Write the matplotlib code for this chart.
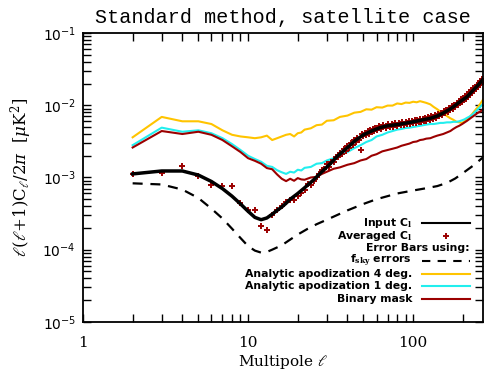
import numpy as np
import matplotlib
matplotlib.use('Agg')
import matplotlib.pyplot as plt

plt.rcParams['mathtext.fontset'] = 'dejavuserif'

# Input C_l (smooth black curve)
ell_in = [2, 3, 4, 5, 6, 7, 8, 9, 10, 11, 12, 13, 14, 15, 16, 17, 18, 20, 22, 25, 28,
          31.5, 35, 40, 45, 50, 56, 63, 70, 80, 90, 100, 115, 127, 140, 152, 165, 175,
          190, 211, 230, 250, 265]
cl_in = [1.12e-3, 1.23e-3, 1.23e-3, 1.08e-3, 8.8e-4, 7.0e-4, 5.5e-4, 4.3e-4, 3.4e-4,
         2.8e-4, 2.6e-4, 2.75e-4, 3.1e-4, 3.5e-4, 3.9e-4, 4.4e-4, 5.0e-4, 6.0e-4, 7.2e-4,
         9.3e-4, 1.2e-3, 1.55e-3, 2.0e-3, 2.6e-3, 3.3e-3, 3.9e-3, 4.4e-3, 4.9e-3, 5.2e-3,
         5.4e-3, 5.65e-3, 5.9e-3, 6.3e-3, 6.6e-3, 7.1e-3, 7.8e-3, 8.7e-3, 9.5e-3, 1.1e-2,
         1.3e-2, 1.6e-2, 1.95e-2, 2.3e-2]

# Averaged C_l (crosses), values in units of 1e-3 uK^2
ell_avg = ([2, 3, 4, 5, 6, 7, 8, 9, 10, 11, 12, 13, 14, 15, 16, 17, 18, 19, 20, 21, 22,
            23, 24, 25, 26, 27, 28, 29]
           + list(range(30, 61)) + list(range(62, 121, 2)) + list(range(123, 265, 3)))
cl_avg_e3 = [1.12, 1.15, 1.45, 1.05, 0.79, 0.76, 0.76, 0.44, 0.36, 0.36, 0.21, 0.19,
             0.30, 0.36, 0.40, 0.46, 0.49, 0.49, 0.56, 0.61, 0.67, 0.80, 0.79, 0.88,
             1.0, 1.1, 1.25, 1.3,
             # l = 30..60
             1.52, 1.41, 1.66, 1.65, 1.95, 1.9, 2.2, 2.1, 2.45, 2.3, 2.75, 2.6, 3.0, 2.85,
             3.35, 3.1, 3.55, 3.35, 2.4, 3.95, 3.7, 4.15, 3.85, 4.35, 4.05, 4.5, 4.2, 4.65,
             4.35, 4.8, 4.5,
             # l = 62..120 step 2
             5.1, 4.7, 5.3, 4.85, 5.5, 5.0, 5.55, 5.05, 5.65, 5.15, 5.75, 5.25, 5.85, 5.35,
             5.95, 5.45, 6.05, 5.5, 6.15, 5.6, 6.25, 5.7, 6.35, 5.8, 6.45, 5.9, 6.55, 6.0,
             6.7, 6.1,
             # l = 123..264 step 3
             6.8, 6.3, 7.0, 6.5, 7.3, 6.7, 7.5, 7.0, 7.9, 7.3, 8.3, 7.7, 8.7, 8.1, 9.2, 8.5,
             9.7, 9.0, 10.2, 9.5, 10.8, 10.1, 11.5, 10.6, 12.1, 11.2, 12.8, 11.8, 13.4,
             12.4, 14.1, 13.2, 15.2, 14.1, 16.1, 15.0, 17.1, 15.9, 18.1, 16.9, 19.2, 17.9,
             20.4, 19.0, 21.7, 20.3, 23.1, 21.8]
cl_avg = np.array(cl_avg_e3) * 1e-3

# f_sky errors (dashed)
ell_fsky = [2, 3, 4, 5, 6, 7, 8, 9, 10, 11, 12, 13, 14, 16, 18, 20, 23, 26, 30, 35, 40,
            50, 60, 80, 100, 120, 140, 160, 180, 200, 230, 265]
cl_fsky = [8.3e-4, 8.0e-4, 6.8e-4, 5.2e-4, 3.7e-4, 2.7e-4, 1.95e-4, 1.45e-4, 1.12e-4,
           9.7e-5, 9.1e-5, 9.3e-5, 1.0e-4, 1.15e-4, 1.38e-4, 1.62e-4, 1.95e-4, 2.25e-4,
           2.6e-4, 3.05e-4, 3.5e-4, 4.3e-4, 5.0e-4, 6.0e-4, 6.6e-4, 7.1e-4, 7.6e-4, 8.4e-4,
           9.7e-4, 1.15e-3, 1.45e-3, 1.9e-3]

# Error bars from the three masks
ell_err = [2, 3, 4, 5, 6, 7, 8, 9, 10, 11, 12, 13, 14, 15, 16, 17, 18, 19, 20, 21, 22,
           24, 26, 28, 30, 33, 36, 40, 44, 48, 52, 56, 60, 65, 70, 75, 80, 85, 90, 95,
           100, 105, 110, 115, 120, 127, 133, 140, 146, 152, 160, 168, 175, 183, 190,
           198, 205, 212, 220, 228, 236, 245, 255, 265]
err_apo4 = [3.6e-3, 6.9e-3, 6.0e-3, 6.0e-3, 5.5e-3, 4.5e-3, 3.9e-3, 3.7e-3, 3.6e-3,
            3.5e-3, 3.6e-3, 3.8e-3, 3.3e-3, 3.5e-3, 3.7e-3, 3.9e-3, 4.0e-3, 3.7e-3, 4.1e-3,
            4.2e-3, 4.6e-3, 4.8e-3, 5.3e-3, 5.4e-3, 6.1e-3, 6.2e-3, 6.9e-3, 7.2e-3, 7.9e-3,
            8.1e-3, 8.8e-3, 8.7e-3, 9.4e-3, 9.3e-3, 9.9e-3, 9.9e-3, 1.06e-2, 1.04e-2,
            1.09e-2, 1.08e-2, 1.12e-2, 1.1e-2, 1.14e-2, 1.11e-2, 1.08e-2, 1.03e-2, 9.5e-3,
            8.8e-3, 8.2e-3, 7.8e-3, 7.1e-3, 6.6e-3, 6.3e-3, 5.9e-3, 5.8e-3, 5.7e-3, 6.0e-3,
            6.4e-3, 6.9e-3, 7.6e-3, 8.4e-3, 9.3e-3, 1.05e-2, 1.2e-2]
err_apo1 = [2.8e-3, 4.9e-3, 4.3e-3, 4.5e-3, 4.1e-3, 3.5e-3, 2.9e-3, 2.4e-3, 2.0e-3,
            1.8e-3, 1.65e-3, 1.45e-3, 1.4e-3, 1.26e-3, 1.18e-3, 1.12e-3, 1.2e-3, 1.17e-3,
            1.28e-3, 1.25e-3, 1.36e-3, 1.4e-3, 1.55e-3, 1.58e-3, 1.72e-3, 1.85e-3, 2.05e-3,
            2.25e-3, 2.55e-3, 2.8e-3, 3.1e-3, 3.3e-3, 3.7e-3, 3.9e-3, 4.2e-3, 4.4e-3,
            4.6e-3, 4.7e-3, 4.85e-3, 4.9e-3, 5.0e-3, 5.1e-3, 5.2e-3, 5.3e-3, 5.4e-3, 5.5e-3,
            5.5e-3, 5.6e-3, 5.7e-3, 5.7e-3, 5.8e-3, 5.8e-3, 5.9e-3, 5.9e-3, 6.0e-3, 6.2e-3,
            6.4e-3, 6.7e-3, 7.0e-3, 7.4e-3, 8.0e-3, 8.7e-3, 9.5e-3, 1.05e-2]
err_bin = [2.6e-3, 4.4e-3, 4.0e-3, 4.3e-3, 3.9e-3, 3.3e-3, 2.7e-3, 2.25e-3, 1.85e-3,
           1.7e-3, 1.55e-3, 1.35e-3, 1.3e-3, 1.1e-3, 9.6e-4, 8.9e-4, 9.6e-4, 9.0e-4, 9.8e-4,
           9.4e-4, 9.3e-4, 1.0e-3, 1.02e-3, 1.12e-3, 1.2e-3, 1.32e-3, 1.38e-3, 1.5e-3,
           1.58e-3, 1.72e-3, 1.8e-3, 2.0e-3, 2.1e-3, 2.3e-3, 2.4e-3, 2.5e-3, 2.6e-3,
           2.75e-3, 2.85e-3, 2.95e-3, 3.1e-3, 3.15e-3, 3.3e-3, 3.35e-3, 3.45e-3, 3.5e-3,
           3.65e-3, 3.8e-3, 3.9e-3, 4.0e-3, 4.2e-3, 4.4e-3, 4.7e-3, 5.0e-3, 5.2e-3, 5.5e-3,
           5.8e-3, 6.1e-3, 6.5e-3, 6.9e-3, 7.3e-3, 7.8e-3, 8.2e-3, 8.7e-3]

c_apo4 = '#ffc400'
c_apo1 = '#22eeee'
c_bin = '#9b0000'
c_avg = '#9b0000'

fig = plt.figure(figsize=(4.85, 3.76), dpi=100)
ax = fig.add_axes([0.171, 0.144, 0.825, 0.768])

ax.plot(ell_err, err_apo4, color=c_apo4, lw=1.5)
ax.plot(ell_err, err_apo1, color=c_apo1, lw=1.5)
ax.plot(ell_err, err_bin, color=c_bin, lw=1.5)
ax.plot(ell_fsky, cl_fsky, color='black', lw=1.6, dashes=(4.5, 3.5))
ax.plot(ell_avg, cl_avg, ls='none', marker='+', color=c_avg, ms=5, mew=1.4)
ax.plot(ell_in, cl_in, color='black', lw=2.5)

ax.set_xscale('log')
ax.set_yscale('log')
ax.set_xlim(1, 265)
ax.set_ylim(1e-5, 1e-1)

ax.tick_params(which='both', direction='in', top=True, right=True, length=6, width=1)
ax.tick_params(axis='x', which='both', labelsize=11, pad=10)
ax.tick_params(axis='y', which='both', labelsize=10, pad=5)
ax.set_xticks([1, 10, 100])
ax.set_xticklabels(['1', '10', '100'], family='DejaVu Serif')
for s in ax.spines.values():
    s.set_linewidth(1.3)

ax.set_title('Standard method, satellite case', family='Liberation Mono', fontsize=14.5, pad=7)
ax.set_xlabel(r'Multipole $\ell$', family='DejaVu Serif', fontsize=11, labelpad=2)
ax.set_ylabel(r'$\ell(\ell{+}1)\mathrm{C}_\ell/2\pi\ \ [\mu\mathrm{K}^2]$', fontsize=12, labelpad=6)

# legend drawn by hand: labels right-aligned, samples to the right
tx = 0.8225
hx0, hx1 = 0.8475, 0.9675
rows = [0.343, 0.299, 0.255, 0.211, 0.167, 0.123, 0.079]
labels = [r'Input C$_{\mathbf{l}}$', r'Averaged C$_{\mathbf{l}}$', 'Error Bars using:',
          r'f$_{\mathbf{sky}}$ errors', 'Analytic apodization 4 deg.',
          'Analytic apodization 1 deg.', 'Binary mask']
for i, (lab, y) in enumerate(zip(labels, rows)):
    x = hx1 if i == 2 else tx
    ax.text(x, y, lab, transform=ax.transAxes, ha='right', va='center',
            family='DejaVu Sans', weight='bold', fontsize=7.8)
ax.plot([hx0, hx1], [rows[0]] * 2, transform=ax.transAxes, color='black', lw=1.5)
ax.plot([(hx0 + hx1) / 2], [rows[1]], transform=ax.transAxes, marker='+', color=c_avg,
        ms=5, mew=1.4)
ax.plot([hx0, hx1], [rows[3]] * 2, transform=ax.transAxes, color='black', lw=1.5,
        dashes=(4, 3.5))
ax.plot([hx0, hx1], [rows[4]] * 2, transform=ax.transAxes, color=c_apo4, lw=1.5)
ax.plot([hx0, hx1], [rows[5]] * 2, transform=ax.transAxes, color=c_apo1, lw=1.5)
ax.plot([hx0, hx1], [rows[6]] * 2, transform=ax.transAxes, color=c_bin, lw=1.5)

fig.savefig('out.png', dpi=100)
